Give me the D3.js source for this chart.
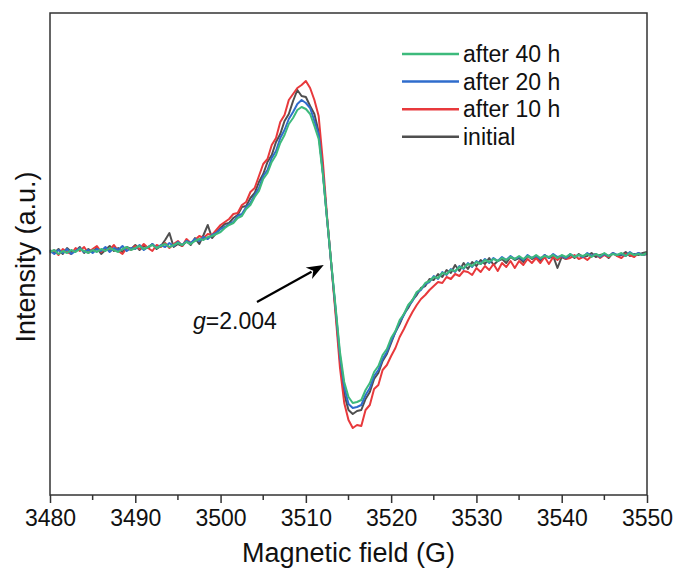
<!DOCTYPE html>
<html><head><meta charset="utf-8">
<script src="https://cdn.jsdelivr.net/npm/d3@7"></script>
<style>body{margin:0;background:#fff}svg{display:block}text{font-family:"Liberation Sans",Arial,sans-serif;fill:#111}</style>
</head><body><svg id="c" width="677" height="570"></svg>
<script>
const fields = [3480,3480.5,3481,3481.5,3482,3482.5,3483,3483.5,3484,3484.5,3485,3485.5,3486,3486.5,3487,3487.5,3488,3488.5,3489,3489.5,
3490,3490.5,3491,3491.5,3492,3492.5,3493,3493.5,3494,3494.5,3495,3495.5,3496,3496.5,3497,3497.5,3498,3498.5,3499,3499.5,
3500,3500.5,3501,3501.5,3502,3502.5,3503,3503.5,3504,3504.5,3505,3505.5,3506,3506.5,3507,3507.5,3508,3508.5,3509,3509.5,
3510,3510.5,3511,3511.5,3512,3512.5,3513,3513.5,3514,3514.5,3515,3515.5,3516,3516.5,3517,3517.5,3518,3518.5,3519,3519.5,
3520,3520.5,3521,3521.5,3522,3522.5,3523,3523.5,3524,3524.5,3525,3525.5,3526,3526.5,3527,3527.5,3528,3528.5,3529,3529.5,
3530,3530.5,3531,3531.5,3532,3532.5,3533,3533.5,3534,3534.5,3535,3535.5,3536,3536.5,3537,3537.5,3538,3538.5,3539,3539.5,
3540,3540.5,3541,3541.5,3542,3542.5,3543,3543.5,3544,3544.5,3545,3545.5,3546,3546.5,3547,3547.5,3548,3548.5,3549,3549.5,3550];

const initial = [10,7,11,6,12,8,9,13,7,11, 8,12,6,10,14,9,12,8,13,11, 15,10,14,12,16,11,14,20,27,13, 16,14,19,15,22,16,25,35,22,27,
32,36,37,42,45,53,54,62,67,78, 86,98,105,118,126,139,146,159,170,164, 163,154,146,128,87,40,-6,-52,-100,-134, -150,-154,-151,-150,-139,-132,-119,-113,-101,-94,
-83,-72,-64,-54,-48,-40,-35,-28,-26,-19, -20,-14,-17,-10,-13,-5,-11,-3,-9,-2, -6,0,-4,2,-5,-1,1,-3,3,0, 2,-2,4,1,3,-1,5,2,4,-8, 3,1,5,2,6,3,4,7,3,5, 6,2,7,4,5,8,4,6,5,7, 8];

const after10h = [7,10,5,11,8,6,12,9,13,7, 11,14,8,12,10,15,9,6,12,10, 14,11,16,12,9,15,13,17,12,16, 19,14,21,17,20,24,22,26,25,30,
35,38,41,46,47,55,58,68,72,84, 96,101,115,122,138,145,160,166,172,175, 179,172,160,144,98,42,-6,-56,-108,-143, -160,-168,-165,-166,-150,-145,-129,-125,-110,-105,
-96,-88,-77,-69,-60,-52,-45,-39,-35,-30, -26,-22,-23,-17,-19,-14,-16,-11,-12,-15, -8,-12,-6,-10,-4,-11,-3,-7,-1,-8, -1,-5,1,-3,2,-3,3,-4,3,0, 4,1,2,5,1,3,0,4,6,2, 5,3,7,4,2,6,5,3,7,5, 6];

const after20h = [9,6,10,7,11,6,9,12,8,10, 7,11,9,13,8,12,10,14,9,12, 11,15,10,13,16,12,15,13,17,14, 18,15,19,17,21,19,23,21,25,27,
31,33,36,38,44,46,53,57,65,72, 84,90,102,109,122,130,141,148,156,160, 157,152,139,126,87,40,-6,-50,-96,-127, -144,-148,-147,-145,-135,-128,-116,-110,-99,-92,
-81,-72,-62,-55,-46,-41,-33,-30,-24,-22, -16,-19,-12,-15,-9,-12,-6,-9,-3,-7, -1,-4,1,-3,2,-1,3,0,4,1, 3,0,5,2,4,1,5,2,6,3, 4,2,6,3,5,3,7,4,6,3, 6,4,7,5,6,4,8,5,7,5, 6];

const after40h = [8,10,6,9,7,10,8,11,9,7, 10,8,11,9,12,10,8,11,13,10, 12,14,11,13,15,12,14,16,13,15, 17,15,18,16,19,21,20,23,24,26,
28,32,35,37,42,44,51,55,63,69, 81,87,98,105,117,125,136,142,150,153, 151,146,134,121,85,40,-5,-48,-92,-122, -137,-143,-142,-140,-130,-123,-112,-106,-95,-89,
-78,-71,-60,-54,-45,-40,-32,-29,-23,-21, -17,-18,-13,-14,-10,-11,-7,-8,-4,-6, -2,-4,0,-2,1,-1,2,0,3,1, 4,1,4,2,5,2,4,3,5,2, 5,3,6,3,5,4,6,3,6,4, 7,4,6,5,7,4,7,5,6,5, 7];

const seriesNames = ["after 40 h","after 20 h","after 10 h","initial"];
const seriesColors = ["#3dba7c","#2f6ccc","#e8393c","#4f4f4f"];
const seriesData = [after40h, after20h, after10h, initial];
const xTicks = [3480,3490,3500,3510,3520,3530,3540,3550];
const xMinorTicks = [3485,3495,3505,3515,3525,3535,3545];
const annotation = {text:"=2.004", field:3512.45, value:-5};

const svg = d3.select("#c");
const L=50, R=647, T=13, B=495;
const x = d3.scaleLinear().domain([3480,3550]).range([L,R]);
const y = d3.scaleLinear().domain([-235,247]).range([B,T]);

const line = d3.line().x((d,i)=>x(fields[i])).y(d=>y(d));
for (let k=seriesData.length-1;k>=0;k--){
  svg.append("path").datum(seriesData[k]).attr("d",line)
    .attr("fill","none").attr("stroke",seriesColors[k]).attr("stroke-width",2).attr("stroke-linejoin","round");
}

// frame
svg.append("rect").attr("x",L).attr("y",T).attr("width",R-L).attr("height",B-T)
  .attr("fill","none").attr("stroke","#333").attr("stroke-width",1.5);

// x axis
const ax = svg.append("g").attr("transform",`translate(0,${B})`)
  .call(d3.axisBottom(x).tickValues(xTicks).tickSize(8).tickPadding(7).tickFormat(d3.format("d")));
ax.select(".domain").remove();
ax.selectAll(".tick line").attr("stroke","#333").attr("stroke-width",1.5);
ax.selectAll(".tick text").attr("font-size",23).attr("fill","#111")
  .style("font-family",'"Liberation Sans",Arial,sans-serif');
svg.append("g").selectAll("line").data(xMinorTicks).join("line")
  .attr("x1",d=>x(d)).attr("x2",d=>x(d)).attr("y1",B).attr("y2",B+5)
  .attr("stroke","#333").attr("stroke-width",1.5);

// axis titles
svg.append("text").attr("transform",`translate(${(L+R)/2},562)`)
  .attr("text-anchor","middle").attr("font-size",27).text("Magnetic field (G)");
svg.append("text").attr("transform",`translate(35,257) rotate(-90)`)
  .attr("text-anchor","middle").attr("font-size",27).text("Intensity (a.u.)");

// legend
const lg = svg.append("g");
seriesNames.forEach((n,i)=>{
  const yy = 54 + i*27.6;
  lg.append("line").attr("x1",402).attr("x2",459).attr("y1",yy).attr("y2",yy)
    .attr("stroke",seriesColors[i]).attr("stroke-width",2.5);
  lg.append("text").attr("x",463).attr("y",yy+8).attr("font-size",23).text(n);
});

// annotation arrow
const tipX = x(annotation.field)-3, tipY = y(annotation.value);
const tailX = 257, tailY = 302;
const ang = Math.atan2(tipY-tailY, tipX-tailX);
const hl=17, hw=6.5;
const bx = tipX - hl*Math.cos(ang), by = tipY - hl*Math.sin(ang);
svg.append("line").attr("x1",tailX).attr("y1",tailY).attr("x2",bx+3*Math.cos(ang)).attr("y2",by+3*Math.sin(ang))
  .attr("stroke","#000").attr("stroke-width",2.2);
svg.append("path").attr("d",`M${tipX},${tipY} L${bx - hw*Math.sin(ang)},${by + hw*Math.cos(ang)} L${bx + 5*Math.cos(ang)},${by+5*Math.sin(ang)} L${bx + hw*Math.sin(ang)},${by - hw*Math.cos(ang)} Z`)
  .attr("fill","#000");
const at = svg.append("text").attr("x",193).attr("y",329).attr("font-size",23);
at.append("tspan").attr("font-style","italic").text("g");
at.append("tspan").text(annotation.text);
</script></body></html>
